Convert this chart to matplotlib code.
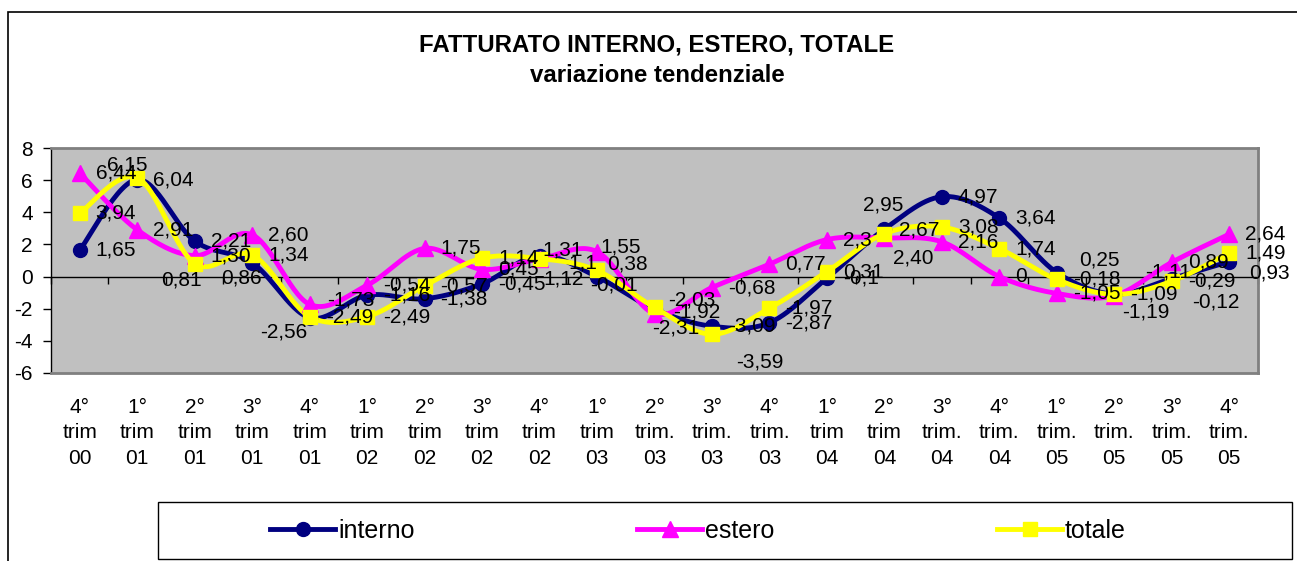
import numpy as np
import matplotlib
matplotlib.use("Agg")
import matplotlib.pyplot as plt
from matplotlib.patches import Rectangle
from matplotlib.lines import Line2D

plt.rcParams['font.family'] = ['Liberation Sans', 'DejaVu Sans']

# ---------------- data ----------------
categories = ["4°\ntrim\n00", "1°\ntrim\n01", "2°\ntrim\n01", "3°\ntrim\n01", "4°\ntrim\n01",
              "1°\ntrim\n02", "2°\ntrim\n02", "3°\ntrim\n02", "4°\ntrim\n02", "1°\ntrim\n03",
              "2°\ntrim.\n03", "3°\ntrim.\n03", "4°\ntrim.\n03", "1°\ntrim\n04", "2°\ntrim\n04",
              "3°\ntrim.\n04", "4°\ntrim.\n04", "1°\ntrim.\n05", "2°\ntrim.\n05", "3°\ntrim.\n05",
              "4°\ntrim.\n05"]

interno_txt = ["1,65", "6,04", "2,21", "0,86", "-2,56", "-1,16", "-1,38", "-0,45", "1,31", "-0,01",
               "-2,03", "-3,09", "-2,87", "-0,1", "2,95", "4,97", "3,64", "0,25", "-1,09", "-0,12", "0,93"]
estero_txt = ["6,44", "2,91", "1,30", "2,60", "-1,73", "-0,54", "1,75", "0,45", "1,1", "1,55",
              "-2,31", "-0,68", "0,77", "2,3", "2,40", "2,16", "0", "-1,05", "-1,19", "0,89", "2,64"]
totale_txt = ["3,94", "6,15", "0,81", "1,34", "-2,49", "-2,49", "-0,57", "1,14", "1,12", "0,38",
              "-1,92", "-3,59", "-1,97", "0,31", "2,67", "3,08", "1,74", "-0,18", "-1,11", "-0,29", "1,49"]

interno = [float(s.replace(",", ".")) for s in interno_txt]
estero = [float(s.replace(",", ".")) for s in estero_txt]
totale = [float(s.replace(",", ".")) for s in totale_txt]

yticks = [8, 6, 4, 2, 0, -2, -4, -6]

# ---------------- style ----------------
W, H = 1297, 561
fig = plt.figure(figsize=(W / 100, H / 100), dpi=100)
fig.patch.set_facecolor("white")

ax = fig.add_axes([51 / W, 1 - 373 / H, (1258 - 51) / W, (373 - 148) / H])
ax.set_facecolor("#C0C0C0")
ax.set_xlim(-0.5, len(categories) - 0.5)
ax.set_ylim(min(yticks), max(yticks))

def smooth(xs, ys, n=30):
    pts = np.column_stack([xs, ys]).astype(float)
    P = np.vstack([pts[0], pts, pts[-1]])
    out = []
    t = np.linspace(0, 1, n)[:, None]
    for i in range(len(pts) - 1):
        p0, p1, p2, p3 = P[i], P[i + 1], P[i + 2], P[i + 3]
        c1 = p1 + (p2 - p0) / 6.0
        c2 = p2 - (p3 - p1) / 6.0
        seg = (1 - t) ** 3 * p1 + 3 * (1 - t) ** 2 * t * c1 + 3 * (1 - t) * t ** 2 * c2 + t ** 3 * p2
        out.append(seg if i == 0 else seg[1:])
    return np.vstack(out)

x = np.arange(len(categories))
series = [
    ("interno", interno, interno_txt, "#000080", "o", 10),
    ("estero", estero, estero_txt, "#FF00FF", "^", 11),
    ("totale", totale, totale_txt, "#FFFF00", "s", 10),
]

# zero line
ax.axhline(0, color="black", lw=1, zorder=2)

handles = []
for name, vals, txt, col, mk, ms in series:
    c = smooth(x, vals)
    ax.plot(c[:, 0], c[:, 1], color=col, lw=3.5, zorder=3, solid_capstyle="round")
    ax.plot(x, vals, linestyle="none", marker=mk, ms=ms, color=col, mec=col, zorder=4)
    handles.append(Line2D([], [], color=col, lw=3.5, marker=mk, ms=ms, mec=col))

# label offsets in pixels (dx right, dy down) relative to point
default_off = (16, 0)
offsets = {
    ("interno", 3): (-31, 15), ("interno", 4): (-50, 14), ("interno", 8): (3, -6),
    ("interno", 9): (-7, 8), ("interno", 10): (14, -9), ("interno", 14): (-21, -24),
    ("interno", 17): (22, -13), ("interno", 19): (20, 23), ("interno", 20): (20, 11),
    ("estero", 4): (17, -4), ("estero", 8): (29, 4), ("estero", 9): (3, -5),
    ("estero", 10): (-2, 14), ("estero", 14): (9, 20), ("estero", 18): (8, 16),
    ("totale", 1): (-30, -13), ("totale", 2): (-34, 16), ("totale", 8): (4, 20),
    ("totale", 9): (10, -6), ("totale", 10): (19, 5), ("totale", 11): (24, 28),
    ("totale", 14): (15, -4), ("totale", 18): (31, -22),
}
for name, vals, txt, col, mk, ms in series:
    for i, (v, s) in enumerate(zip(vals, txt)):
        dx, dy = offsets.get((name, i), default_off)
        ax.annotate(s, (i, v), xytext=(dx, -dy), textcoords="offset pixels",
                    ha="left", va="center", fontsize=15, color="black", zorder=6)

# axes styling
ax.set_yticks(yticks)
ax.set_yticklabels([str(v) for v in yticks])
ax.tick_params(axis="y", direction="out", length=6, width=1, pad=7, labelsize=15, color="black")
ax.set_xticks(x)
ax.set_xticklabels(categories, fontsize=15, linespacing=1.42)
ax.tick_params(axis="x", length=0, pad=18)
for sp in ["top", "right", "bottom"]:
    ax.spines[sp].set_color("#808080")
    ax.spines[sp].set_linewidth(2)
ax.spines["left"].set_color("black")
ax.spines["left"].set_linewidth(1)

# category tick marks on the zero line
ymin, ymax = min(yticks), max(yticks)
sec = ax.secondary_xaxis((0 - ymin) / (ymax - ymin))
sec.set_xticks(np.arange(-0.5, len(categories), 1.0))
sec.xaxis.set_ticks_position("bottom")
sec.tick_params(direction="out", length=5, width=1, labelbottom=False, labeltop=False, color="black")
for sp in sec.spines.values():
    sp.set_visible(False)

# titles
fig.text(657 / W, 1 - 45 / H, "FATTURATO INTERNO, ESTERO, TOTALE", ha="center", va="center",
         fontsize=17.3, fontweight="bold")
fig.text(657 / W, 1 - 75 / H, "variazione tendenziale", ha="center", va="center",
         fontsize=17.3, fontweight="bold")

# outer chart border
fig.add_artist(Rectangle((8 / W, -0.5), 2.0, 1.5 - 12 / H, transform=fig.transFigure,
                         fill=False, edgecolor="black", lw=1.2))

# legend frame + legend entries
fig.add_artist(Rectangle((158 / W, 1 - 559 / H), (1292 - 158) / W, (559 - 502) / H,
                         transform=fig.transFigure, fill=False, edgecolor="black", lw=1))
leg = fig.legend(handles, [s[0] for s in series], loc="center",
                 bbox_to_anchor=(698 / W, 1 - 531 / H),
                 ncol=3, fontsize=18, handlelength=2.6, handletextpad=0.12,
                 columnspacing=8.9, frameon=False, borderaxespad=0, borderpad=0)

fig.savefig("out.png", dpi=100)
